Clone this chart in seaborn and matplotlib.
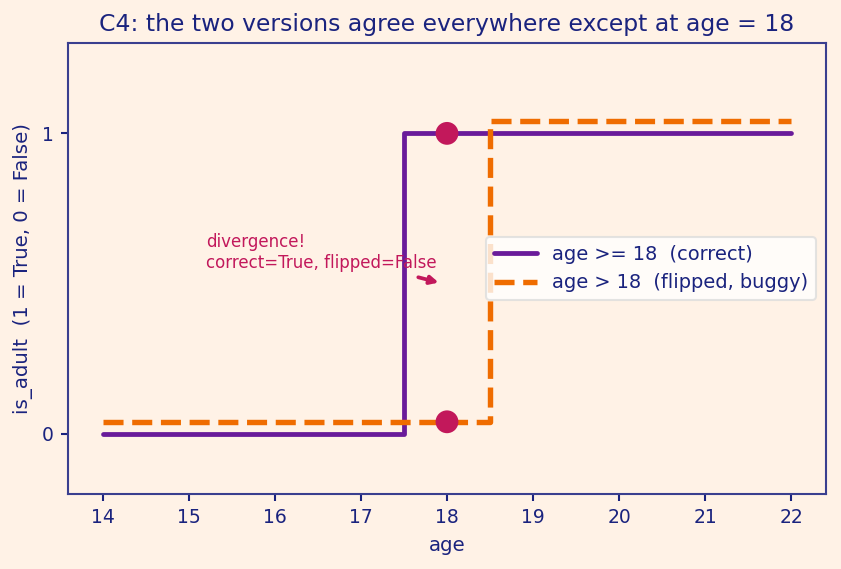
import matplotlib
matplotlib.use("Agg")
import matplotlib.pyplot as plt
import seaborn as sns
import pandas as pd

# ages and the two versions of is_adult
ages = [14, 15, 16, 17, 18, 19, 20, 21, 22]
correct = [0, 0, 0, 0, 1, 1, 1, 1, 1]   # age >= 18
flipped = [0, 0, 0, 0, 0, 1, 1, 1, 1]   # age > 18
offset = 0.04   # small lift so the dashed line stays visible
focus_age = 18

bg = "#FFF2E6"
navy = "#1A237E"
purple = "#6A1B9A"
orange = "#EF6C00"
crimson = "#C2185B"

sns.set_theme(style="white")
plt.rcParams["font.family"] = ["DejaVu Sans"]

df = pd.DataFrame({"age": ages, "correct": correct,
                   "flipped": [v + offset for v in flipped]})

fig, ax = plt.subplots(figsize=(8.41 / 1.5, 5.69 / 1.5), dpi=150)
fig.patch.set_facecolor(bg)
ax.set_facecolor(bg)

sns.lineplot(data=df, x="age", y="correct", ax=ax, color=purple, lw=2.3,
             drawstyle="steps-mid", label="age >= 18  (correct)")
sns.lineplot(data=df, x="age", y="flipped", ax=ax, color=orange, lw=2.6,
             linestyle="--", drawstyle="steps-mid",
             label="age > 18  (flipped, buggy)")

i = ages.index(focus_age)
pts = pd.DataFrame({"age": [focus_age, focus_age],
                    "val": [correct[i], flipped[i] + offset]})
sns.scatterplot(data=pts, x="age", y="val", ax=ax, color=crimson, s=120,
                edgecolor="none", zorder=5, legend=False)

ax.annotate("divergence!\ncorrect=True, flipped=False",
            xy=(17.95, 0.5), xytext=(15.2, 0.54),
            fontsize=8, color=crimson, va="bottom", ha="left",
            arrowprops=dict(arrowstyle="-|>", color=crimson, lw=1.8,
                            mutation_scale=8))

ax.set_ylim(-0.2, 1.3)
ax.set_yticks([0, 1])
ax.set_xticks(ages)
ax.set_title("C4: the two versions agree everywhere except at age = 18",
             color=navy, fontsize=11.25)
ax.set_xlabel("age", color=navy, fontsize=9.5)
ax.set_ylabel("is_adult  (1 = True, 0 = False)", color=navy, fontsize=9.5)
ax.tick_params(colors=navy, labelsize=9, length=3.5, width=1,
               bottom=True, left=True)
for s in ax.spines.values():
    s.set_color("#3A3F8F")
    s.set_linewidth(1)

leg = ax.legend(loc="center right", fontsize=9.3, frameon=True,
                facecolor="white", framealpha=0.8, edgecolor="#dddddd",
                handlelength=2.2)
for t in leg.get_texts():
    t.set_color(navy)

fig.subplots_adjust(left=0.081, right=0.982, top=0.924, bottom=0.132)
fig.savefig("out.png", dpi=150, facecolor=bg)
